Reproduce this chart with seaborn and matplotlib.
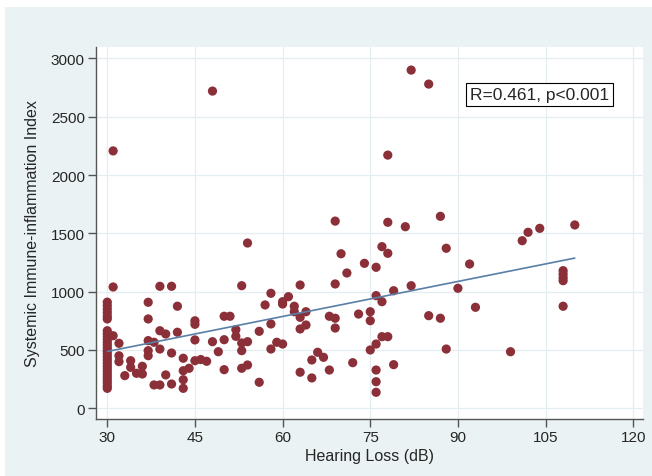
import matplotlib
matplotlib.use("Agg")
import matplotlib.pyplot as plt
import seaborn as sns
import pandas as pd
from matplotlib.patches import Rectangle

# ---- data ----
hearing_loss = [
    30, 30, 30, 30, 30, 30,
    30, 30, 30, 30, 30, 30, 30, 30, 30, 30, 30, 30, 30, 30, 30, 30, 30, 30, 30, 30, 30,
    31, 31, 31, 32, 32, 32, 33,
    34, 34, 35, 36, 36,
    37, 37, 37, 37, 37, 38, 38,
    39, 39, 39, 39, 40, 40, 41, 41, 41, 42, 42,
    43, 43, 43, 43, 44, 45, 45, 45, 45, 46, 47,
    48, 48, 49, 50, 50, 50, 51, 52, 52,
    53, 53, 53, 53, 54, 54, 54, 56, 56, 57,
    58, 58, 58, 59, 60, 60, 60, 61, 62, 62,
    63, 63, 63, 63, 64, 64, 65, 65, 66, 67, 68, 68,
    69, 69, 69, 69, 70, 71, 72, 73, 74,
    75, 75, 75, 76, 76, 76, 76, 76, 76,
    77, 77, 77, 78, 78, 78, 78, 79, 79, 81,
    82, 82, 85, 85, 87, 87, 88, 88, 90, 92, 93, 99,
    101, 102, 104, 108, 108, 108, 108, 108, 110,
]
sii = [
    910, 880, 850, 820, 790, 766,
    665, 640, 615, 590, 565, 540, 515, 490, 465, 440, 415, 390, 365, 340, 315, 290, 265, 240, 215, 190, 171,
    2207, 1040, 622, 557, 450, 400, 280,
    408, 351, 300, 360, 294,
    909, 766, 580, 494, 451, 566, 200,
    1046, 665, 508, 200, 637, 286, 1046, 474, 208, 875, 652,
    429, 322, 245, 171, 343, 750, 720, 586, 408, 418, 403,
    2720, 571, 485, 789, 588, 331, 789, 674, 617,
    1051, 560, 494, 343, 1417, 571, 371, 660, 223, 886,
    986, 723, 508, 566, 914, 894, 551, 957, 875, 828,
    1057, 780, 680, 309, 828, 714, 414, 260, 480, 437, 789, 328,
    1605, 1066, 772, 688, 1325, 1160, 391, 808, 1243,
    828, 751, 500, 1209, 966, 551, 328, 228, 137,
    1386, 914, 614, 2171, 1595, 1329, 614, 1008, 374, 1557,
    2900, 1051, 2780, 794, 1646, 772, 1372, 508, 1029, 1237, 866, 485,
    1437, 1509, 1543, 1180, 1150, 1120, 1094, 875, 1572,
]
x_ticks = [30, 45, 60, 75, 90, 105, 120]
y_ticks = [0, 500, 1000, 1500, 2000, 2500, 3000]
annotation = "R=0.461, p<0.001"

df = pd.DataFrame({"Hearing Loss (dB)": hearing_loss,
                   "Systemic Immune-inflammation Index": sii})

sns.set_style("white")
plt.rcParams["font.family"] = ["Liberation Sans", "DejaVu Sans"]

BG = "#eaf2f3"
fig = plt.figure(figsize=(6.52, 4.77), dpi=100, facecolor="white")
fig.patches.append(Rectangle((5 / 652, 0), 1, 1 - 8 / 477, transform=fig.transFigure,
                             facecolor=BG, edgecolor="none", zorder=-10))
ax = fig.add_axes([96 / 652, 1 - 420 / 477, (643 - 96) / 652, (420 - 48) / 477])
ax.set_facecolor("white")

sns.regplot(data=df, x="Hearing Loss (dB)", y="Systemic Immune-inflammation Index",
            ci=None, ax=ax,
            scatter_kws=dict(s=44, color="#8b2f38", edgecolors="none", alpha=1, zorder=3),
            line_kws=dict(color="#5a7fa6", lw=1.2, zorder=4))

ax.set_xlim(28.07, 121.67)
ax.set_ylim(-92, 3098)
ax.set_xticks(x_ticks)
ax.set_yticks(y_ticks)
ax.set_yticklabels([str(v) for v in y_ticks], rotation=0)
ax.grid(True, color="#e4eef0", lw=0.9, zorder=0)
ax.set_axisbelow(True)

for s in ["top", "right"]:
    ax.spines[s].set_visible(False)
for s in ["left", "bottom"]:
    ax.spines[s].set_color("#555555")
    ax.spines[s].set_linewidth(1.0)
ax.tick_params(axis="both", which="major", direction="out", length=6, width=1,
               color="#555555", labelsize=11, pad=2, left=True, bottom=True)

ax.set_xlabel("Hearing Loss (dB)", fontsize=11.5, labelpad=3)
ax.set_ylabel("Systemic Immune-inflammation Index", fontsize=11.5, labelpad=8)

ax.text(104.0, 2690, annotation, fontsize=12.5, ha="center", va="center", zorder=5,
        bbox=dict(boxstyle="square,pad=0.22", facecolor="white", edgecolor="black", lw=0.8))

fig.savefig("out.png", dpi=100, facecolor=fig.get_facecolor())
